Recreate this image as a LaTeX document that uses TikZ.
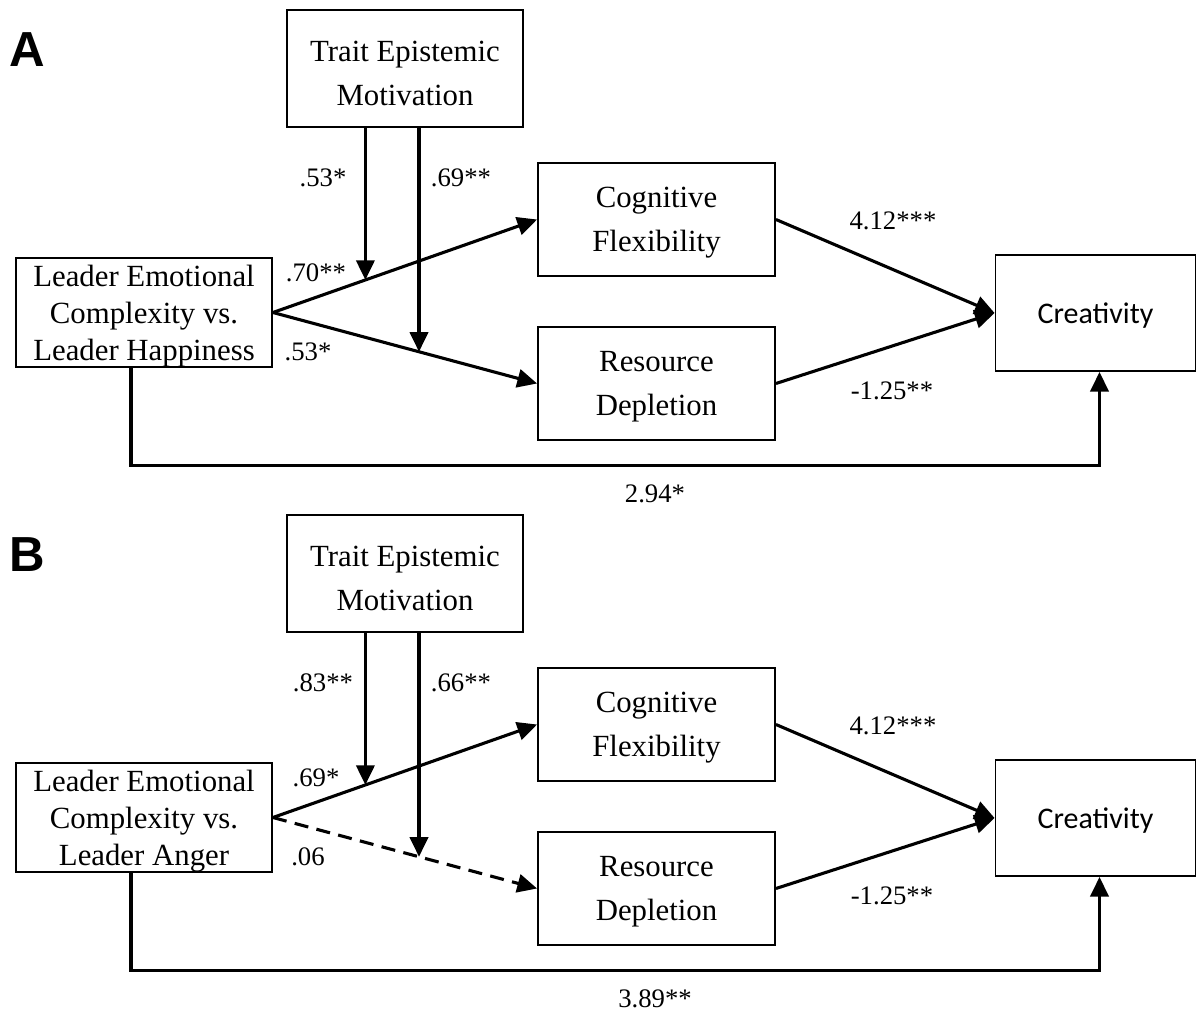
\documentclass[tikz,border=0pt]{standalone}
\usepackage{fontspec}
\setmainfont{Liberation Serif}
\newfontfamily\calibfont{Carlito}
\newfontfamily\panelfont{Liberation Sans}
\usetikzlibrary{arrows.meta, calc}

\tikzset{
  varbox/.style={draw, line width=1.3pt, inner sep=0pt, align=center, text depth=-3.5pt, font=\fontsize{21.9}{31.2}\selectfont},
  effect/.style={line width=2.2pt, -{Triangle[length=14pt, width=13pt]}},
  sigline/.style={},
  nonsigline/.style={dash pattern=on 10pt off 6pt},
  coef/.style={font=\fontsize{19}{22}\selectfont},
  panel/.style={font=\panelfont\bfseries\fontsize{35}{40}\selectfont}
}

\begin{document}
\begin{tikzpicture}[x=0.025cm, y=-0.025cm]
  \useasboundingbox (0,0) rectangle (1197,1012);
  \foreach \p/\oy/\emo/\ma/\mb/\ca/\cb/\dc/\rs in {A/0/Happiness/.53*/.69**/.70**/.53*/2.94*/sigline,
                                                 B/505/Anger/.83**/.66**/.69*/.06/3.89**/nonsigline}{
    \begin{scope}[shift={(0,\oy)}]
      % variables
      \node[panel] (lbl\p) at (27,50) {\p};
      \node[varbox, minimum width=5.9cm, minimum height=2.925cm] (trait\p) at (405,68.5) {\rule{0pt}{21pt}Trait Epistemic\\Motivation};
      \node[varbox, minimum width=6.4cm, minimum height=2.725cm, font=\fontsize{21.9}{26.2}\selectfont] (lead\p) at (144,312.5) {Leader Emotional\\Complexity vs.\\Leader \emo};
      \node[varbox, minimum width=5.925cm, minimum height=2.825cm] (cog\p) at (656.5,219.5) {Cognitive\\Flexibility};
      \node[varbox, minimum width=5.925cm, minimum height=2.825cm] (res\p) at (656.5,383.5) {Resource\\Depletion};
      \node[varbox, minimum width=5cm, minimum height=2.9cm, font=\calibfont\fontsize{21.3}{26}\selectfont] (crea\p) at (1095.5,313) {Creativity};

      % paths
      \draw[effect] (lead\p.east) -- (cog\p.west) coordinate[pos=0.35] (mc\p);
      \draw[effect, \rs] (lead\p.east) -- (res\p.west) coordinate[pos=0.553] (mr\p);
      \draw[effect] (mc\p |- trait\p.south) -- (mc\p);
      \draw[effect] (mr\p |- trait\p.south) -- (mr\p);
      \draw[effect] (cog\p.east) -- (crea\p.west);
      \draw[effect] (res\p.east) -- (crea\p.west);
      \draw[effect] ([xshift=-0.325cm]lead\p.south) -- ++(0,98) -| ([xshift=0.1cm]crea\p.south);

      % coefficients
      \node[coef] (ma\p) at (323,178) {\ma};
      \node[coef] (mb\p) at (461,178) {\mb};
      \node[coef] (ca\p) at (316,273) {\ca};
      \node[coef] (cb\p) at (308,352) {\cb};
      \node[coef] (fl\p) at (893,221) {4.12***};
      \node[coef] (dp\p) at (892,391) {-1.25**};
      \node[coef] (dc\p) at (655,494) {\dc};
    \end{scope}
  }
\end{tikzpicture}
\end{document}
